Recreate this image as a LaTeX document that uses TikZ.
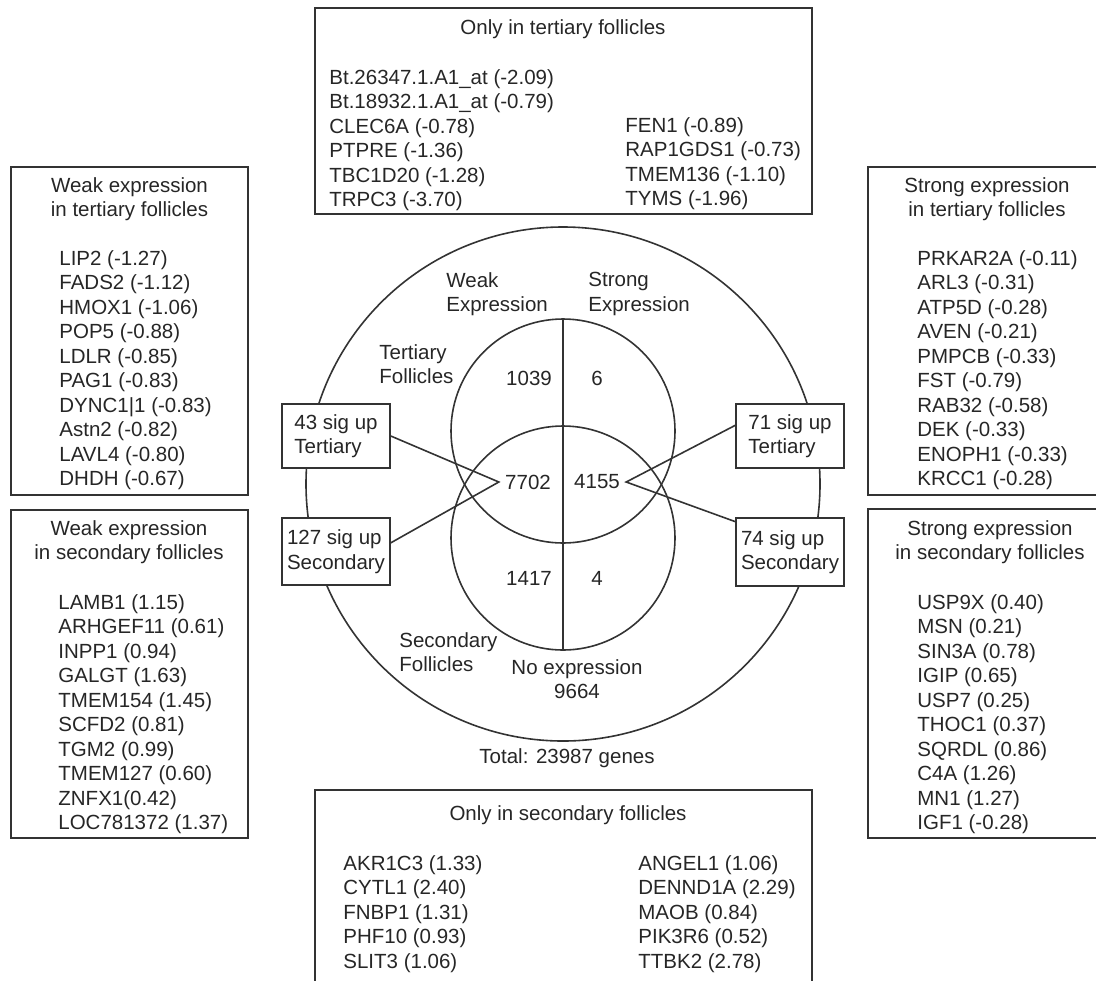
\documentclass[tikz,border=0pt]{standalone}
\usepackage{fontspec}
\setmainfont{Liberation Sans}
\usetikzlibrary{positioning}
\newcommand\genefont{\fontsize{10.25pt}{12.25pt}\selectfont}

\begin{document}
\begin{tikzpicture}[x=0.5pt,y=-0.5pt,
  every node/.style={font=\genefont,text=black!85,inner sep=0pt},
  frame/.style={draw=black!80,line width=0.8pt},
  head/.style={anchor=north,align=center},
  genes/.style={anchor=north west,align=left},
  count/.style={inner sep=3pt},
  sigbox/.style={frame,fill=white,align=left,minimum width=54pt,minimum height=32pt,inner sep=2pt},
  ring/.style={frame,circle,minimum size=112pt}]
 \useasboundingbox (0,0) rectangle (1096,980);

 \draw[frame] (315,8) rectangle (812,214);
 \node[head] (toph) at (563,19) {Only in tertiary follicles};
 \node[genes] (topa) at (329,69) {Bt.26347.1.A1\_at (-2.09)\\Bt.18932.1.A1\_at (-0.79)\\CLEC6A (-0.78)\\PTPRE (-1.36)\\TBC1D20 (-1.28)\\TRPC3 (-3.70)};
 \node[genes] (topb) at (625,117) {FEN1 (-0.89)\\RAP1GDS1 (-0.73)\\TMEM136 (-1.10)\\TYMS (-1.96)};

 \draw[frame] (11,167) rectangle (248,495);
 \node[head] (weakth) at (129.5,177) {Weak expression\\in tertiary follicles};
 \node[genes] (weakt) at (59,250) {LIP2 (-1.27)\\FADS2 (-1.12)\\HMOX1 (-1.06)\\POP5 (-0.88)\\LDLR (-0.85)\\PAG1 (-0.83)\\DYNC1|1 (-0.83)\\Astn2 (-0.82)\\LAVL4 (-0.80)\\DHDH (-0.67)};

 \draw[frame] (11,510) rectangle (248,838);
 \node[head] (weaksh) at (129,520) {Weak expression\\in secondary follicles};
 \node[genes] (weaks) at (58,594) {LAMB1 (1.15)\\ARHGEF11 (0.61)\\INPP1 (0.94)\\GALGT (1.63)\\TMEM154 (1.45)\\SCFD2 (0.81)\\TGM2 (0.99)\\TMEM127 (0.60)\\ZNFX1(0.42)\\LOC781372 (1.37)};

 \draw[frame] (868,167) rectangle (1113,495);
 \node[head] (strongth) at (987,177) {Strong expression\\in tertiary follicles};
 \node[genes] (strongt) at (917,250) {PRKAR2A (-0.11)\\ARL3 (-0.31)\\ATP5D (-0.28)\\AVEN (-0.21)\\PMPCB (-0.33)\\FST (-0.79)\\RAB32 (-0.58)\\DEK (-0.33)\\ENOPH1 (-0.33)\\KRCC1 (-0.28)};

 \draw[frame] (868,509) rectangle (1113,838);
 \node[head] (strongsh) at (990,520) {Strong expression\\in secondary follicles};
 \node[genes] (strongs) at (917,594) {USP9X (0.40)\\MSN (0.21)\\SIN3A (0.78)\\IGIP (0.65)\\USP7 (0.25)\\THOC1 (0.37)\\SQRDL (0.86)\\C4A (1.26)\\MN1 (1.27)\\IGF1 (-0.28)};

 \draw[frame] (315,790) rectangle (812,1002);
 \node[head] (both) at (568,805) {Only in secondary follicles};
 \node[genes] (bota) at (343,855) {AKR1C3 (1.33)\\CYTL1 (2.40)\\FNBP1 (1.31)\\PHF10 (0.93)\\SLIT3 (1.06)};
 \node[genes] (botb) at (638,855) {ANGEL1 (1.06)\\DENND1A (2.29)\\MAOB (0.84)\\PIK3R6 (0.52)\\TTBK2 (2.78)};

 \node[frame,circle,minimum size=257pt] (total) at (563,484) {};
 \node[ring] (tert) at (563,431) {};
 \node[ring] (sec) at (563,538) {};
 \draw[frame] (tert.north) -- (sec.south);

 \node[genes] (weakl) at (446,272) {Weak\\Expression};
 \node[genes] (strongl) at (588,272) {Strong\\Expression};
 \node[genes] (tertl) at (379,344) {Tertiary\\Follicles};
 \node[genes] (secl) at (399,632) {Secondary\\Follicles};
 \node[head] (noexp) at (577,659) {No expression\\9664};
 \node[head] (totl) at (567,748) {Total: 23987 genes};

 \node[count] (c1039) at (529,378) {1039};
 \node[count] (c6) at (597,378) {6};
 \node[count] (c7702) at (528,482) {7702};
 \node[count] (c4155) at (597,482) {4155};
 \node[count] (c1417) at (529,578) {1417};
 \node[count] (c4) at (597,578) {4};

 \node[sigbox] (t43) at (336,436) {43 sig up\\Tertiary};
 \node[sigbox,minimum height=33.5pt] (s127) at (336,551.5) {127 sig up\\Secondary};
 \node[sigbox] (t71) at (790,436) {71 sig up\\Tertiary};
 \node[sigbox,minimum height=34pt] (s74) at (790,552) {74 sig up\\Secondary};

 \draw[frame] (t43.east) -- (c7702.west) -- (s127.9);
 \draw[frame] (t71.169) -- (c4155.east) -- (s74.151);
\end{tikzpicture}
\end{document}
